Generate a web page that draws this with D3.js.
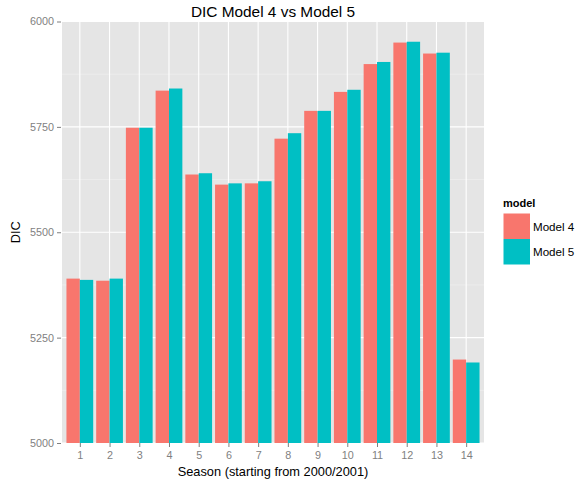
<!DOCTYPE html>
<html><head><meta charset="utf-8">
<script src="https://cdn.jsdelivr.net/npm/d3@7"></script>
<style>body{margin:0;background:#fff}svg{display:block;font-family:"Liberation Sans",Arial,sans-serif}</style>
</head><body><svg id="c" width="576" height="484"></svg>
<script>
const seasons = ["1","2","3","4","5","6","7","8","9","10","11","12","13","14"];
const model4 = [5390,5385,5748,5836,5637,5613,5616,5722,5788,5833,5899,5950,5924,5198];
const model5 = [5387,5390,5748,5841,5640,5616,5621,5735,5788,5838,5904,5952,5926,5191];
const seriesNames = ["Model 4","Model 5"];
const colors = ["#F8766D","#00BFC4"];
const yTicks = [5000,5250,5500,5750,6000];
const yMinor = [5125,5375,5625,5875];

const svg = d3.select("#c");
const L=62, R=484, T=21.5, B=443;
const x = d3.scaleLinear().domain([0.4, seasons.length+0.6]).range([L,R]);
const y = d3.scaleLinear().domain([5000,6000]).range([B,T]);

svg.append("rect").attr("x",L).attr("y",T).attr("width",R-L).attr("height",B-T).attr("fill","#E5E5E5");
const g = svg.append("g");
yMinor.forEach(v=>g.append("line").attr("x1",L).attr("x2",R).attr("y1",y(v)).attr("y2",y(v)).attr("stroke","#F2F2F2").attr("stroke-width",0.6));
yTicks.forEach(v=>g.append("line").attr("x1",L).attr("x2",R).attr("y1",y(v)).attr("y2",y(v)).attr("stroke","#fff").attr("stroke-width",1.1));
seasons.forEach((s,i)=>g.append("line").attr("x1",x(i+1)).attr("x2",x(i+1)).attr("y1",T).attr("y2",B).attr("stroke","#fff").attr("stroke-width",1.1));

const data = [model4, model5];
const bw = 0.45;
data.forEach((arr,k)=>{
  svg.append("g").selectAll("rect").data(arr).join("rect")
    .attr("x",(d,i)=>x(i+1-0.45+k*bw))
    .attr("width",x(1+bw)-x(1))
    .attr("y",d=>y(d))
    .attr("height",d=>B-y(d))
    .attr("fill",colors[k]);
});

// axes
const yAxis = d3.axisLeft(y).tickValues(yTicks).tickSize(4).tickPadding(3).tickFormat(d3.format("d"));
const ya = svg.append("g").attr("transform",`translate(${L-1},0)`).call(yAxis);
ya.select(".domain").remove();
ya.selectAll("line").attr("stroke","#7F7F7F");
ya.selectAll("text").attr("fill","#7F7F7F").attr("font-size","10.8px").attr("font-family","Liberation Sans, Arial, sans-serif");

const xAxis = d3.axisBottom(x).tickValues(d3.range(1,seasons.length+1)).tickFormat(d=>seasons[d-1]).tickSize(4).tickPadding(4);
const xa = svg.append("g").attr("transform",`translate(0,${B})`).call(xAxis);
xa.select(".domain").remove();
xa.selectAll("line").attr("stroke","#7F7F7F");
xa.selectAll("text").attr("fill","#7F7F7F").attr("font-size","10.8px").attr("font-family","Liberation Sans, Arial, sans-serif");

svg.append("text").attr("x",(L+R)/2).attr("y",17).attr("text-anchor","middle").attr("font-size","15.4px").attr("fill","#000").text("DIC Model 4 vs Model 5");
svg.append("text").attr("x",(L+R)/2).attr("y",476).attr("text-anchor","middle").attr("font-size","12.8px").attr("fill","#000").text("Season (starting from 2000/2001)");
svg.append("text").attr("transform",`translate(20,${(T+B)/2}) rotate(-90)`).attr("text-anchor","middle").attr("font-size","12.8px").attr("fill","#000").text("DIC");

// legend
const lg = svg.append("g");
lg.append("text").attr("x",503).attr("y",207).attr("font-size","11px").attr("font-weight","bold").text("model");
seriesNames.forEach((n,i)=>{
  lg.append("rect").attr("x",503.5).attr("y",213.5+i*25.5).attr("width",26.5).attr("height",25.5).attr("fill",colors[i]);
  lg.append("text").attr("x",533).attr("y",230.5+i*25.5).attr("font-size","11.6px").attr("fill","#000").text(n);
});
</script></body></html>
